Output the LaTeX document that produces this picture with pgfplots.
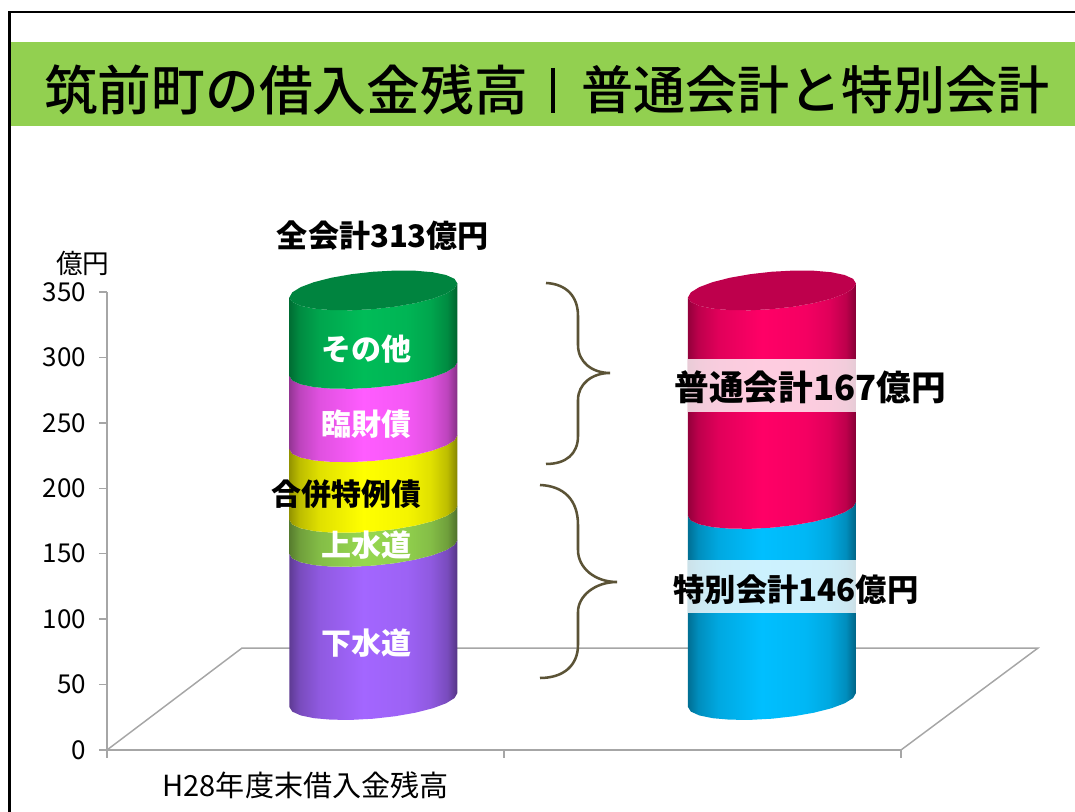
\documentclass[border=0pt]{standalone}
\usepackage{fontspec}
\setmainfont{Noto Sans CJK JP}
\newfontfamily\jpmedium{Noto Sans CJK JP Medium}
\usepackage{pgfplots}
\usepackage{pgfplotstable}
\pgfplotsset{compat=1.18}

% Horizontal shading for a cylinder wall: dark rim, bright band slightly left of centre
\newcommand{\cylshade}[2]{%
  \definecolor{#1base}{HTML}{#2}%
  \pgfdeclarehorizontalshading{#1}{100bp}{%
    color(0bp)=(#1base!58!black);
    color(25bp)=(#1base!58!black);
    color(28bp)=(#1base!74!black);
    color(34bp)=(#1base!88!black);
    color(47bp)=(#1base);
    color(60bp)=(#1base!96!black);
    color(67bp)=(#1base!88!black);
    color(72bp)=(#1base!74!black);
    color(75bp)=(#1base!52!black);
    color(100bp)=(#1base!52!black)}}
\cylshade{cylPurple}{A366FF}
\cylshade{cylLime}{96D750}
\cylshade{cylYellow}{FFFF00}
\cylshade{cylPink}{FF5CFF}
\cylshade{cylGreen}{00BC58}
\cylshade{cylCrimson}{FF0066}
\cylshade{cylBlue}{00BFFF}
\definecolor{gridgray}{HTML}{A6A6A6}
\definecolor{bandgreen}{HTML}{92D050}
\definecolor{braceolive}{HTML}{5B5336}
\definecolor{capGreen}{HTML}{00843F}
\definecolor{capCrimson}{HTML}{BE004C}

% Outline of one wall segment: front arc of the lower rim, then the upper rim back
\pgfplotstableread{
dx dy lev
-.2116 -5.35 0
-.2043 -8.86 0
-.1831 -11.77 0
-.1496 -13.89 0
-.1058 -15.05 0
-.0547 -15.18 0
0 -14.29 0
.0547 -12.42 0
.1058 -9.70 0
.1496 -6.32 0
.1831 -2.51 0
.2043 1.47 0
.2116 5.35 0
.2116 5.35 1
.2043 1.47 1
.1831 -2.51 1
.1496 -6.32 1
.1058 -9.70 1
.0547 -12.42 1
0 -14.29 1
-.0547 -15.18 1
-.1058 -15.05 1
-.1496 -13.89 1
-.1831 -11.77 1
-.2043 -8.86 1
-.2116 -5.35 1
}\cylwall

% Full tilted ellipse closing the top of a cylinder
\pgfplotstableread{
dx dy
-.2116 -5.35
-.2043 -8.86
-.1831 -11.77
-.1496 -13.89
-.1058 -15.05
-.0547 -15.18
0 -14.29
.0547 -12.42
.1058 -9.70
.1496 -6.32
.1831 -2.51
.2043 1.47
.2116 5.35
.2043 8.86
.1831 11.77
.1496 13.89
.1058 15.05
.0547 15.18
0 14.29
-.0547 12.42
-.1058 9.70
-.1496 6.32
-.1831 2.51
-.2043 -1.47
-.2116 -5.35
}\cylcap

% \cylseg{x centre}{stack below}{value}{shading}; 38.2 lifts the base onto the floor
\newcommand{\cylseg}[4]{%
  \addplot[draw=none, shade, shading=#4]
    table[x expr=#1+\thisrow{dx}, y expr=38.2+#2+\thisrow{lev}*#3+\thisrow{dy}] {\cylwall};}
\newcommand{\cyltop}[3]{%
  \addplot[draw=none, fill=#3]
    table[x expr=#1+\thisrow{dx}, y expr=38.2+#2+\thisrow{dy}] {\cylcap};}

\tikzset{px/.style={x=.75pt,y=-.75pt,xshift=-80.25pt,yshift=562.5pt}}

\begin{document}
\begin{tikzpicture}
\path[px, use as bounding box] (0,0) rectangle (1075,812);

\begin{axis}[
  at={(0,0)}, anchor=south west,
  width=595.5pt, height=343.5pt, scale only axis,
  xmin=0, xmax=2, ymin=0, ymax=350,
  clip=false,
  axis x line*=bottom, axis y line*=left,
  axis line style={draw=gridgray, line width=1.1pt},
  tick style={draw=gridgray, line width=1.1pt},
  major tick length=6pt,
  tick align=outside,
  xtick={0,1,2},
  x tick label as interval,
  xticklabels={H28年度末借入金残高,},
  xticklabel style={font=\fontsize{21.8}{26}\selectfont, text=black, yshift=-7pt},
  ytick={0,50,...,350},
  yticklabel style={font=\fontsize{19.5}{22}\selectfont, text=black, xshift=-6pt},
  /pgf/number format/assume math mode=true,
]
% floor of the 3-D plot
\addplot[gridgray, line width=1.1pt] coordinates {(0,0) (.340,77.9) (2.345,77.9) (2,0)};

% left column: debt by kind
\cylseg{.671}{0}{117}{cylPurple}
\cylseg{.671}{117}{26}{cylLime}
\cylseg{.671}{143}{54}{cylYellow}
\cylseg{.671}{197}{56}{cylPink}
\cylseg{.671}{253}{60}{cylGreen}
\cyltop{.671}{313}{capGreen}

% right column: special and general accounts
\cylseg{1.675}{0}{146}{cylBlue}
\cylseg{1.675}{146}{167}{cylCrimson}
\cyltop{1.675}{313}{capCrimson}

% pale bands behind the account captions
\addplot[draw=none, fill=white, fill opacity=.8] coordinates
  {(1.4634,258.5) (1.8866,258.5) (1.8866,299) (1.4634,299)};
\addplot[draw=none, fill=white, fill opacity=.8] coordinates
  {(1.4634,105) (1.8866,105) (1.8866,145.5) (1.4634,145.5)};
\end{axis}

\begin{scope}[px]
% slide frame and title band
\draw[black, line width=1.9pt] (1075,12) -- (9.5,12) -- (9.5,812);
\fill[bandgreen] (11,42) rectangle (1075,126);
\node[font=\jpmedium\fontsize{40.3}{44}\selectfont, anchor=west, inner sep=0] at (44,90) {筑前町の借入金残高};
\draw[black, line width=2.6pt] (553,68) -- (553,113);
\node[font=\jpmedium\fontsize{39}{44}\selectfont, anchor=east, inner sep=0] at (1050,90) {普通会計と特別会計};

% axis unit and total
\node[font=\fontsize{20}{22}\selectfont, inner sep=0] at (83,263) {億円};
\node[font=\bfseries\fontsize{23.3}{26}\selectfont, inner sep=0] at (383,236) {全会計313億円};

% segment captions
\node[font=\bfseries\fontsize{22.5}{24}\selectfont, text=white, inner sep=0] at (366,349) {その他};
\node[font=\bfseries\fontsize{22.5}{24}\selectfont, text=white, inner sep=0] at (366,424) {臨財債};
\node[font=\bfseries\fontsize{22.5}{24}\selectfont, inner sep=0] at (346,494) {合併特例債};
\node[font=\bfseries\fontsize{22.5}{24}\selectfont, text=white, inner sep=0] at (366,545) {上水道};
\node[font=\bfseries\fontsize{22.5}{24}\selectfont, text=white, inner sep=0] at (366,643) {下水道};
\node[font=\bfseries\fontsize{26}{28}\selectfont, inner sep=0] at (810,387) {普通会計167億円};
\node[font=\bfseries\fontsize{23.5}{26}\selectfont, inner sep=0] at (796,590) {特別会計146億円};

% braces grouping the segments into the two accounts
\draw[braceolive, line width=1.9pt] (546,283) .. controls (566,284) and (578,296) .. (578,316)
  -- (578,345) .. controls (578,362) and (592,373) .. (610,373)
  .. controls (592,373) and (578,384) .. (578,400) -- (578,436)
  .. controls (578,454) and (566,464) .. (546,464);
\draw[braceolive, line width=1.9pt] (540,485) .. controls (564,486) and (578,500) .. (578,525)
  -- (578,550) .. controls (578,568) and (595,582) .. (617,582)
  .. controls (595,582) and (578,596) .. (578,612) -- (578,645)
  .. controls (578,665) and (564,678) .. (540,678);
\end{scope}
\end{tikzpicture}
\end{document}
